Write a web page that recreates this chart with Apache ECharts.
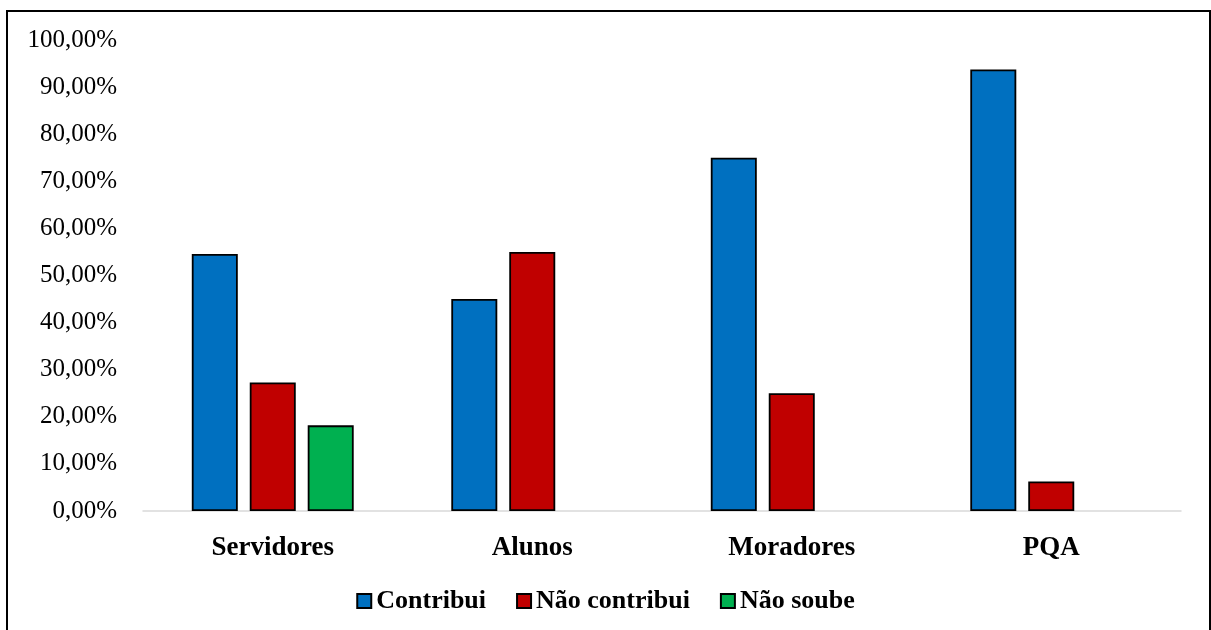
<!DOCTYPE html>
<html>
<head>
<meta charset="utf-8">
<script src="https://cdn.jsdelivr.net/npm/echarts@6/dist/echarts.min.js"></script>
<style>
  html, body { margin: 0; padding: 0; background: #fff; overflow: hidden; }
  #frame {
    position: absolute; left: 6px; top: 10px;
    width: 1205px; height: 650px;
    border: 2px solid #000; box-sizing: border-box;
  }
  #chart { position: absolute; left: 0; top: 0; width: 1211px; height: 630px; }
</style>
</head>
<body>
<div id="frame"></div>
<div id="chart"></div>
<script>
// dados do gráfico
const categorias = ['Servidores', 'Alunos', 'Moradores', 'PQA'];
const contribui = [54.55, 45.0, 75.0, 93.75];
const naoContribui = [27.27, 55.0, 25.0, 6.25];
const naoSoube = [18.18, null, null, null];

const chart = echarts.init(document.getElementById('chart'));

const fonte = '"Liberation Serif", "Times New Roman", serif';
const borda = { borderColor: '#000', borderWidth: 1.8 };

chart.setOption({
  backgroundColor: 'transparent',
  animation: false,
  textStyle: { fontFamily: fonte },
  grid: { left: 143, right: 30, top: 40, bottom: 119, containLabel: false },
  legend: {
    bottom: 11,
    left: 'center',
    icon: 'rect',
    itemWidth: 14,
    itemHeight: 14,
    itemGap: 30,
    textStyle: { fontFamily: fonte, fontSize: 26, fontWeight: 'bold', color: '#000' },
    data: ['Contribui', 'Não contribui', 'Não soube']
  },
  xAxis: {
    type: 'category',
    data: categorias,
    axisLine: { lineStyle: { color: '#d9d9d9', width: 1.5 } },
    axisTick: { show: false },
    axisLabel: { color: '#000', fontSize: 27, fontWeight: 'bold', margin: 24, fontFamily: fonte }
  },
  yAxis: {
    type: 'value',
    min: 0,
    max: 100,
    interval: 10,
    splitLine: { show: false },
    axisLine: { show: false },
    axisTick: { show: false },
    axisLabel: {
      color: '#000', fontSize: 25, margin: 26, fontFamily: fonte,
      formatter: v => v.toFixed(2).replace('.', ',') + '%'
    }
  },
  series: [
    { name: 'Contribui', type: 'bar', data: contribui, barWidth: 46, barGap: '26%',
      itemStyle: Object.assign({ color: '#0070C0' }, borda) },
    { name: 'Não contribui', type: 'bar', data: naoContribui, barWidth: 46, barGap: '26%',
      itemStyle: Object.assign({ color: '#C00000' }, borda) },
    { name: 'Não soube', type: 'bar', data: naoSoube, barWidth: 46, barGap: '26%',
      itemStyle: Object.assign({ color: '#00B050' }, borda) }
  ]
});
</script>
</body>
</html>
